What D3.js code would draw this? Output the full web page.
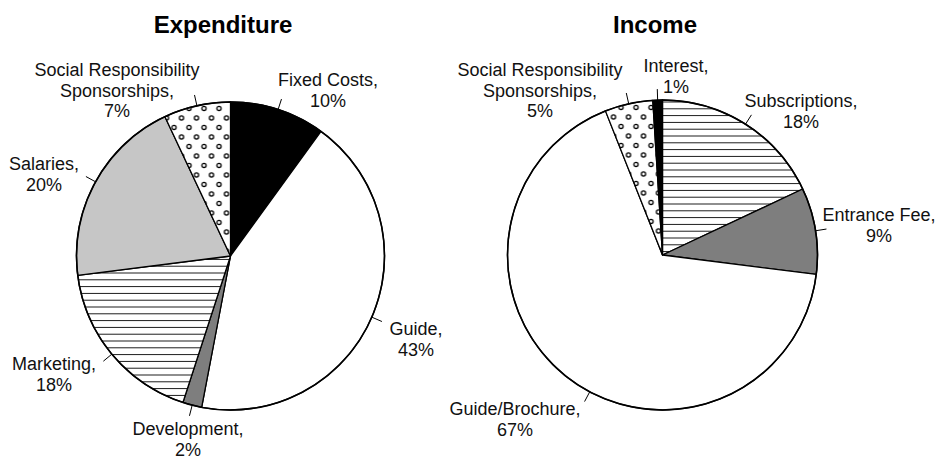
<!DOCTYPE html>
<html>
<head>
<meta charset="utf-8">
<script src="https://cdn.jsdelivr.net/npm/d3@7"></script>
<style>
  body { margin: 0; background: #fff; }
  svg { display: block; font-family: "Liberation Sans", Arial, Helvetica, sans-serif; }
</style>
</head>
<body>
<svg width="942" height="459"></svg>
<script>
// data: slices go clockwise from 12 o'clock
var expLabels = ["Fixed Costs", "Guide", "Development", "Marketing", "Salaries", "Social Responsibility Sponsorships"];
var expValues = [10, 43, 2, 18, 20, 7];

var incLabels = ["Subscriptions", "Entrance Fee", "Guide/Brochure", "Social Responsibility Sponsorships", "Interest"];
var incValues = [18, 9, 67, 5, 1];

// fill per category
var fills = {
  "Fixed Costs": "#000",
  "Guide": "#fff",
  "Development": "#7e7e7e",
  "Marketing": "url(#hlines)",
  "Salaries": "#c6c6c6",
  "Social Responsibility Sponsorships": "url(#dots)",
  "Subscriptions": "url(#hlines)",
  "Entrance Fee": "#7e7e7e",
  "Guide/Brochure": "#fff",
  "Interest": "#000"
};

// label placement (first baseline), leader angle override in degrees
var expLayout = {
  "Fixed Costs": {x: 328, y: 86},
  "Guide": {x: 416, y: 335},
  "Development": {x: 188, y: 435},
  "Marketing": {x: 54, y: 370},
  "Salaries": {x: 44, y: 170},
  "Social Responsibility Sponsorships": {x: 117, y: 76}
};
var incLayout = {
  "Subscriptions": {x: 801, y: 107},
  "Entrance Fee": {x: 879, y: 221},
  "Guide/Brochure": {x: 515, y: 415, ang: 208},
  "Social Responsibility Sponsorships": {x: 540, y: 76},
  "Interest": {x: 676, y: 72}
};

var svg = d3.select("svg");
var lineH = 20.5;

// patterns
var defs = svg.append("defs");
var hl = defs.append("pattern")
  .attr("id", "hlines")
  .attr("patternUnits", "userSpaceOnUse")
  .attr("width", 10).attr("height", 6.8);
hl.append("rect").attr("width", 10).attr("height", 6.8).attr("fill", "#fff");
hl.append("line")
  .attr("x1", 0).attr("x2", 10).attr("y1", 3.4).attr("y2", 3.4)
  .attr("stroke", "#000").attr("stroke-width", 0.9);

var dp = defs.append("pattern")
  .attr("id", "dots")
  .attr("patternUnits", "userSpaceOnUse")
  .attr("width", 15).attr("height", 19);
dp.append("rect").attr("width", 15).attr("height", 19).attr("fill", "#fff");
[[3.5, 4.5], [11, 14]].forEach(function(p) {
  dp.append("circle")
    .attr("cx", p[0]).attr("cy", p[1]).attr("r", 2.1)
    .attr("fill", "#fff").attr("stroke", "#000").attr("stroke-width", 1.3);
});

function drawPie(title, titleX, labels, values, layout, cx, cy, r) {
  var g = svg.append("g").attr("transform", "translate(" + cx + "," + cy + ")");

  svg.append("text")
    .attr("x", titleX).attr("y", 33)
    .attr("text-anchor", "middle")
    .attr("font-size", 24).attr("font-weight", "bold")
    .text(title);

  var pie = d3.pie().sort(null).value(function(d) { return d.value; });
  var arc = d3.arc().innerRadius(0).outerRadius(r);
  var data = labels.map(function(l, i) { return {label: l, value: values[i]}; });
  var arcs = pie(data);

  g.selectAll(".slice")
    .data(arcs)
    .enter().append("path")
      .attr("class", "slice")
      .attr("d", arc)
      .attr("fill", function(d) { return fills[d.data.label]; })
      .attr("stroke", "#000")
      .attr("stroke-width", 1.3)
      .attr("stroke-linejoin", "round");

  g.append("circle")
    .attr("r", r).attr("fill", "none")
    .attr("stroke", "#000").attr("stroke-width", 1.6);

  // leader ticks
  g.selectAll(".leader")
    .data(arcs)
    .enter().append("line")
      .attr("class", "leader")
      .each(function(d) {
        var lay = layout[d.data.label];
        var a = lay.ang != null ? lay.ang * Math.PI / 180 : (d.startAngle + d.endAngle) / 2;
        d3.select(this)
          .attr("x1", r * Math.sin(a)).attr("y1", -r * Math.cos(a))
          .attr("x2", (r + 11) * Math.sin(a)).attr("y2", -(r + 11) * Math.cos(a));
      })
      .attr("stroke", "#000").attr("stroke-width", 1);

  // labels
  arcs.forEach(function(d) {
    var lay = layout[d.data.label];
    var words = d.data.label === "Social Responsibility Sponsorships"
      ? ["Social Responsibility", "Sponsorships,"]
      : [d.data.label + ","];
    words.push(d.data.value + "%");
    var t = svg.append("text")
      .attr("text-anchor", "middle")
      .attr("font-size", 18)
      .attr("fill", "#111");
    words.forEach(function(w, i) {
      t.append("tspan")
        .attr("x", lay.x)
        .attr("y", lay.y + i * lineH)
        .text(w);
    });
  });
}

drawPie("Expenditure", 223, expLabels, expValues, expLayout, 230.5, 256, 154);
drawPie("Income", 655, incLabels, incValues, incLayout, 662.5, 255, 155);
</script>
</body>
</html>
